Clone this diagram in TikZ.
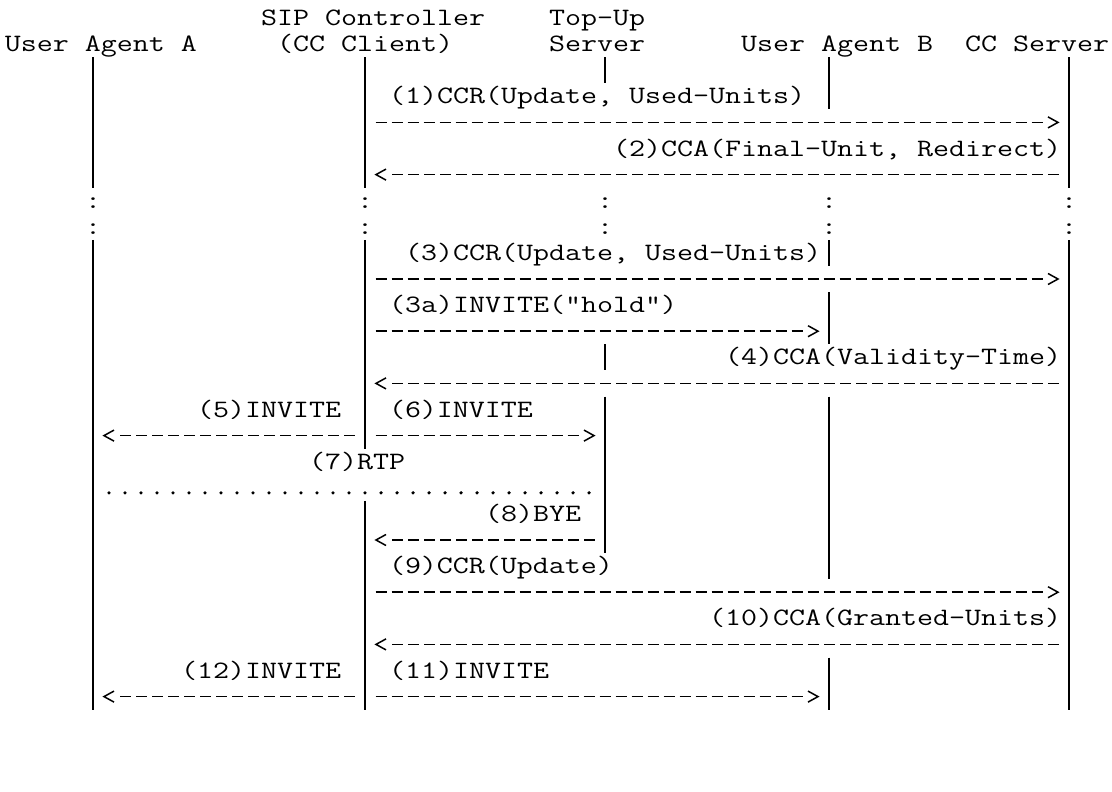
\documentclass[tikz,border=0pt]{standalone}
\usepackage{graphicx}
\newlength\asclen
\settowidth\asclen{\fontsize{25}{26}\ttfamily\selectfont M}
\pgfmathsetmacro\ascfactor{16/\asclen}
\newcommand{\asc}[1]{\scalebox{\ascfactor}[1]{#1}}
\tikzset{
  txt/.style={inner sep=0pt, outer sep=0pt, anchor=base west, font=\ttfamily\fontsize{25}{26}\selectfont},
  colon/.style={txt, anchor=base},
  life/.style={line width=1.5pt},
  msg/.style={line width=1.6pt, dash pattern=on 11pt off 5pt, shorten <=10.5pt, shorten >=26.5pt},
  chev/.style={line width=1.5pt, line join=miter, line cap=butt},
  rtp/.style={line width=3.6pt, line cap=round, dash pattern=on 0pt off 16pt, shorten <=16pt, shorten >=15pt},
  rtip/.pic={\draw[chev] (-10,-5.5) -- (0,0) -- (-10,5.5);},
  ltip/.pic={\draw[chev] (10,-5.5) -- (0,0) -- (10,5.5);}
}
\begin{document}
\begin{tikzpicture}[x=1pt,y=-1pt]
\fill[white] (0,0) rectangle (1112,792);
\useasboundingbox (0,0) rectangle (1112,792);

% ---------- headers ----------
\node[txt] (hSIP) at (261,25.6) {\asc{SIP Controller}};
\node[txt] (hTop) at (549,25.6) {\asc{Top-Up}};
\node[txt] (hA)   at (5,51.7)   {\asc{User Agent A}};
\node[txt] (hCC)  at (277,51.7) {\asc{(CC Client)}};
\node[txt] (hSrv) at (549,51.7) {\asc{Server}};
\node[txt] (hB)   at (741,51.7) {\asc{User Agent B}};
\node[txt] (hC)   at (965,51.7) {\asc{CC Server}};

% ---------- lifelines ----------
\coordinate (A1t) at (93,57.2);   \coordinate (A1b) at (93,187.6);
\coordinate (A2t) at (93,239.9);  \coordinate (A2b) at (93,709.6);
\coordinate (S1t) at (365,57.2);  \coordinate (S1b) at (365,187.6);
\coordinate (S2t) at (365,239.9); \coordinate (S2b) at (365,448.6);
\coordinate (S3t) at (365,500.9); \coordinate (S3b) at (365,709.6);
\coordinate (T1t) at (605,57.2);  \coordinate (T1b) at (605,83.2);
\coordinate (T2t) at (605,344.3); \coordinate (T2b) at (605,370.3);
\coordinate (T3t) at (605,396.5); \coordinate (T3b) at (605,553.0);
\coordinate (B1t) at (829,57.2);  \coordinate (B1b) at (829,109.3);
\coordinate (B2t) at (829,239.9); \coordinate (B2b) at (829,265.9);
\coordinate (B3t) at (829,292.1); \coordinate (B3b) at (829,344.2);
\coordinate (B4t) at (829,396.5); \coordinate (B4b) at (829,579.1);
\coordinate (B5t) at (829,657.5); \coordinate (B5b) at (829,709.6);
\coordinate (C1t) at (1069,57.2); \coordinate (C1b) at (1069,187.6);
\coordinate (C2t) at (1069,239.9);\coordinate (C2b) at (1069,709.6);
\foreach \p in {A1,A2,S1,S2,S3,T1,T2,T3,B1,B2,B3,B4,B5,C1,C2}
  \draw[life] (\p t) -- (\p b);

% ---------- continuation colons ----------
\foreach \xx/\nm in {93/A,365/S,605/T,829/B,1069/C}{
  \node[colon] (k7\nm) at (\xx,208.3) {\asc{:}};
  \node[colon] (k8\nm) at (\xx,234.4) {\asc{:}};
}

% ---------- message end points ----------
\coordinate (S4) at (365,122.4);  \coordinate (C4) at (1069,122.4);
\coordinate (S6) at (365,174.6);  \coordinate (C6) at (1069,174.6);
\coordinate (S10) at (365,279.0); \coordinate (C10) at (1069,279.0);
\coordinate (S12) at (365,331.2); \coordinate (B12) at (829,331.2);
\coordinate (S14) at (365,383.4); \coordinate (C14) at (1069,383.4);
\coordinate (A16) at (93,435.6);  \coordinate (S16) at (365,435.6); \coordinate (T16) at (605,435.6);
\coordinate (A18) at (93,492.8);  \coordinate (T18) at (605,492.8);
\coordinate (S20) at (365,540.0); \coordinate (T20) at (605,540.0);
\coordinate (S22) at (365,592.2); \coordinate (C22) at (1069,592.2);
\coordinate (S24) at (365,644.4); \coordinate (C24) at (1069,644.4);
\coordinate (A26) at (93,696.6);  \coordinate (S26) at (365,696.6); \coordinate (B26) at (829,696.6);

% ---------- messages ----------
\draw[msg] (S4) -- (C4);   \path (C4) ++(-11,0) pic {rtip};
\draw[msg] (C6) -- (S6);   \path (S6) ++(11,0) pic {ltip};
\draw[msg] (S10) -- (C10); \path (C10) ++(-11,0) pic {rtip};
\draw[msg] (S12) -- (B12); \path (B12) ++(-11,0) pic {rtip};
\draw[msg] (C14) -- (S14); \path (S14) ++(11,0) pic {ltip};
\draw[msg] (S16) -- (A16); \path (A16) ++(11,0) pic {ltip};
\draw[msg] (S16) -- (T16); \path (T16) ++(-11,0) pic {rtip};
\draw[rtp] (A18) -- (T18);
\draw[msg] (T20) -- (S20); \path (S20) ++(11,0) pic {ltip};
\draw[msg] (S22) -- (C22); \path (C22) ++(-11,0) pic {rtip};
\draw[msg] (C24) -- (S24); \path (S24) ++(11,0) pic {ltip};
\draw[msg] (S26) -- (A26); \path (A26) ++(11,0) pic {ltip};
\draw[msg] (S26) -- (B26); \path (B26) ++(-11,0) pic {rtip};

% ---------- labels ----------
\node[txt] (l1)  at (389,103.9) {\asc{(1)CCR(Update, Used-Units)}};
\node[txt] (l2)  at (613,156.1) {\asc{(2)CCA(Final-Unit, Redirect)}};
\node[txt] (l3)  at (405,260.5) {\asc{(3)CCR(Update, Used-Units)}};
\node[txt] (l3a) at (389,312.7) {\asc{(3a)INVITE("hold")}};
\node[txt] (l4)  at (725,364.9) {\asc{(4)CCA(Validity-Time)}};
\node[txt] (l5)  at (197,417.1) {\asc{(5)INVITE}};
\node[txt] (l6)  at (389,417.1) {\asc{(6)INVITE}};
\node[txt] (l7)  at (309,469.3) {\asc{(7)RTP}};
\node[txt] (l8)  at (485,521.5) {\asc{(8)BYE}};
\node[txt] (l9)  at (389,573.7) {\asc{(9)CCR(Update)}};
\node[txt] (l10) at (709,625.9) {\asc{(10)CCA(Granted-Units)}};
\node[txt] (l12) at (181,678.1) {\asc{(12)INVITE}};
\node[txt] (l11) at (389,678.1) {\asc{(11)INVITE}};
\end{tikzpicture}
\end{document}
